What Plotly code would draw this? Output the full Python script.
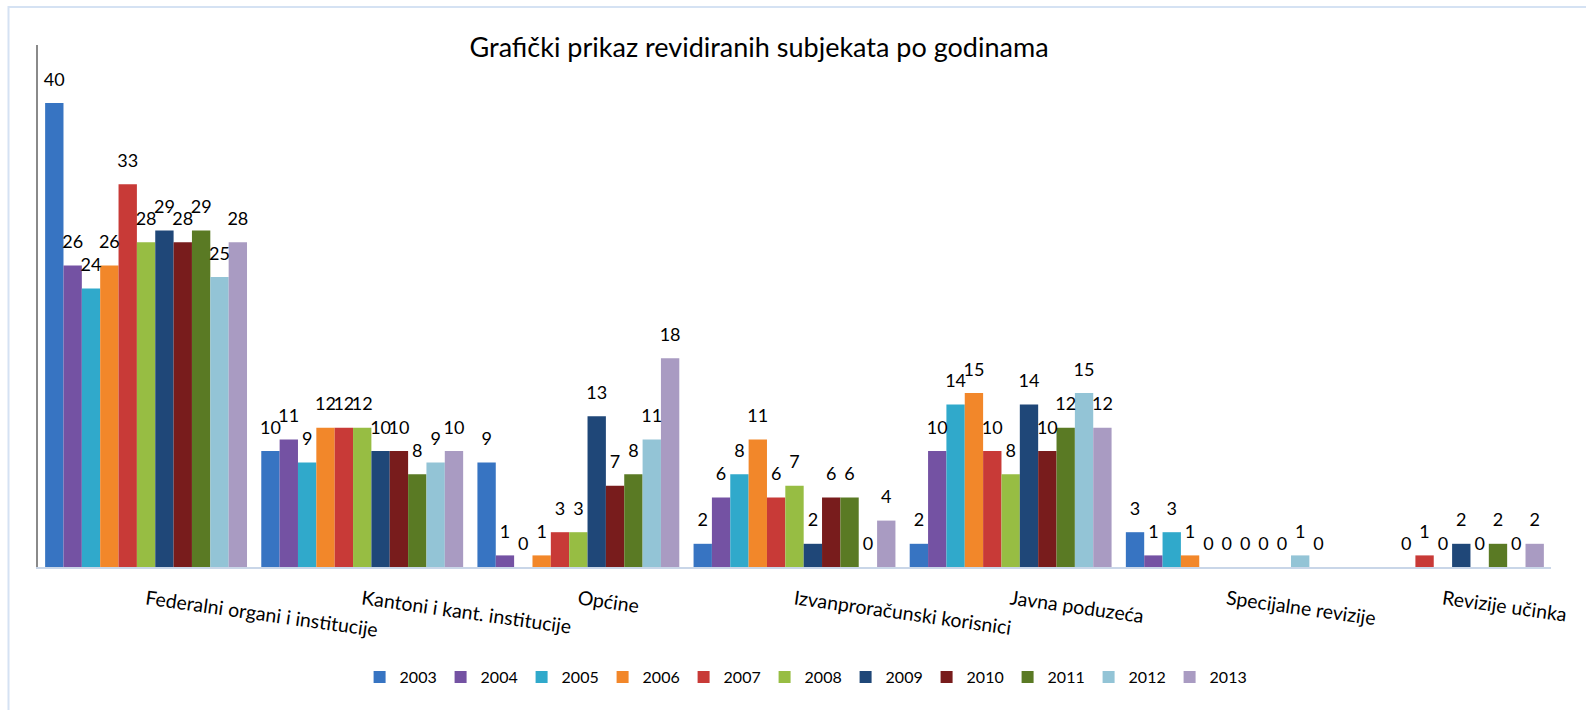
import plotly.graph_objects as go

categories = ["Federalni organi i institucije", "Kantoni i kant. institucije", "Općine",
              "Izvanproračunski korisnici", "Javna poduzeća", "Specijalne revizije", "Revizije učinka"]
years = ["2003", "2004", "2005", "2006", "2007", "2008", "2009", "2010", "2011", "2012", "2013"]

v2003 = [40, 10, 9, 2, 2, 3, None]
v2004 = [26, 11, 1, 6, 10, 1, None]
v2005 = [24, 9, 0, 8, 14, 3, None]
v2006 = [26, 12, 1, 11, 15, 1, 0]
v2007 = [33, 12, 3, 6, 10, 0, 1]
v2008 = [28, 12, 3, 7, 8, 0, 0]
v2009 = [29, 10, 13, 2, 14, 0, 2]
v2010 = [28, 10, 7, 6, 10, 0, 0]
v2011 = [29, 8, 8, 6, 12, 0, 2]
v2012 = [25, 9, 11, 0, 15, 1, 0]
v2013 = [28, 10, 18, 4, 12, 0, 2]

series = [v2003, v2004, v2005, v2006, v2007, v2008, v2009, v2010, v2011, v2012, v2013]
colors = ["#3774c2", "#7452a3", "#30a9cb", "#f2872a", "#c83a37", "#97bd43",
          "#1f4778", "#781c1c", "#5a7a24", "#93c4d6", "#a99bc2"]

FONT = "Lato, 'Open Sans', sans-serif"
LABEL_LIFT = 0.9

fig = go.Figure()
for yr, vals, col in zip(years, series, colors):
    fig.add_trace(go.Bar(
        x=categories, y=vals, name=yr, offsetgroup=yr,
        marker=dict(color=col, line=dict(width=0)),
    ))
for yr, vals in zip(years, series):
    fig.add_trace(go.Bar(
        x=categories,
        y=[None if v is None else LABEL_LIFT for v in vals],
        base=[None if v is None else v for v in vals],
        customdata=vals,
        texttemplate="%{customdata}", textposition="outside",
        constraintext="none", cliponaxis=False,
        textfont=dict(family=FONT, size=18, color="#000000"),
        offsetgroup=yr, showlegend=False, hoverinfo="skip",
        marker=dict(color="rgba(0,0,0,0)", line=dict(width=0)),
    ))

fig.update_layout(
    width=1586, height=710,
    margin=dict(l=38, r=35, t=45, b=143),
    paper_bgcolor="white", plot_bgcolor="white",
    barmode="group", bargap=0.066, bargroupgap=0,
    font=dict(family=FONT, size=17, color="#000000"),
    title=dict(text="Grafički prikaz revidiranih subjekata po godinama",
               x=0.4786, xanchor="center", y=0.933, yanchor="middle",
               font=dict(family=FONT, size=27, color="#000000")),
    legend=dict(orientation="h", x=0.507, xanchor="center", y=-0.211, yanchor="middle",
                font=dict(family=FONT, size=16, color="#000000"),
                itemwidth=30, traceorder="normal",
                entrywidth=36, entrywidthmode="pixels"),
    showlegend=True,
)
fig.update_xaxes(showgrid=False, showline=True, linecolor="#c9d6e8", linewidth=2,
                 ticks="", tickangle=8, ticklabelstandoff=12,
                 tickfont=dict(family=FONT, size=19.5, color="#000000"),
                 zeroline=False)
fig.update_yaxes(range=[0, 45], showgrid=False, showline=True, linecolor="#8a8a8a", linewidth=2,
                 showticklabels=False, ticks="", zeroline=False)

fig.add_shape(type="rect", xref="paper", yref="paper",
              x0=(8.5 - 38) / 1513, x1=1.05, y0=-0.4, y1=(567 - 7) / 522,
              line=dict(color="#d5e2f3", width=2), fillcolor="rgba(0,0,0,0)", layer="below")

fig.write_html("out.html", config={"displayModeBar": False},
               post_script="document.body.style.margin='0';")
